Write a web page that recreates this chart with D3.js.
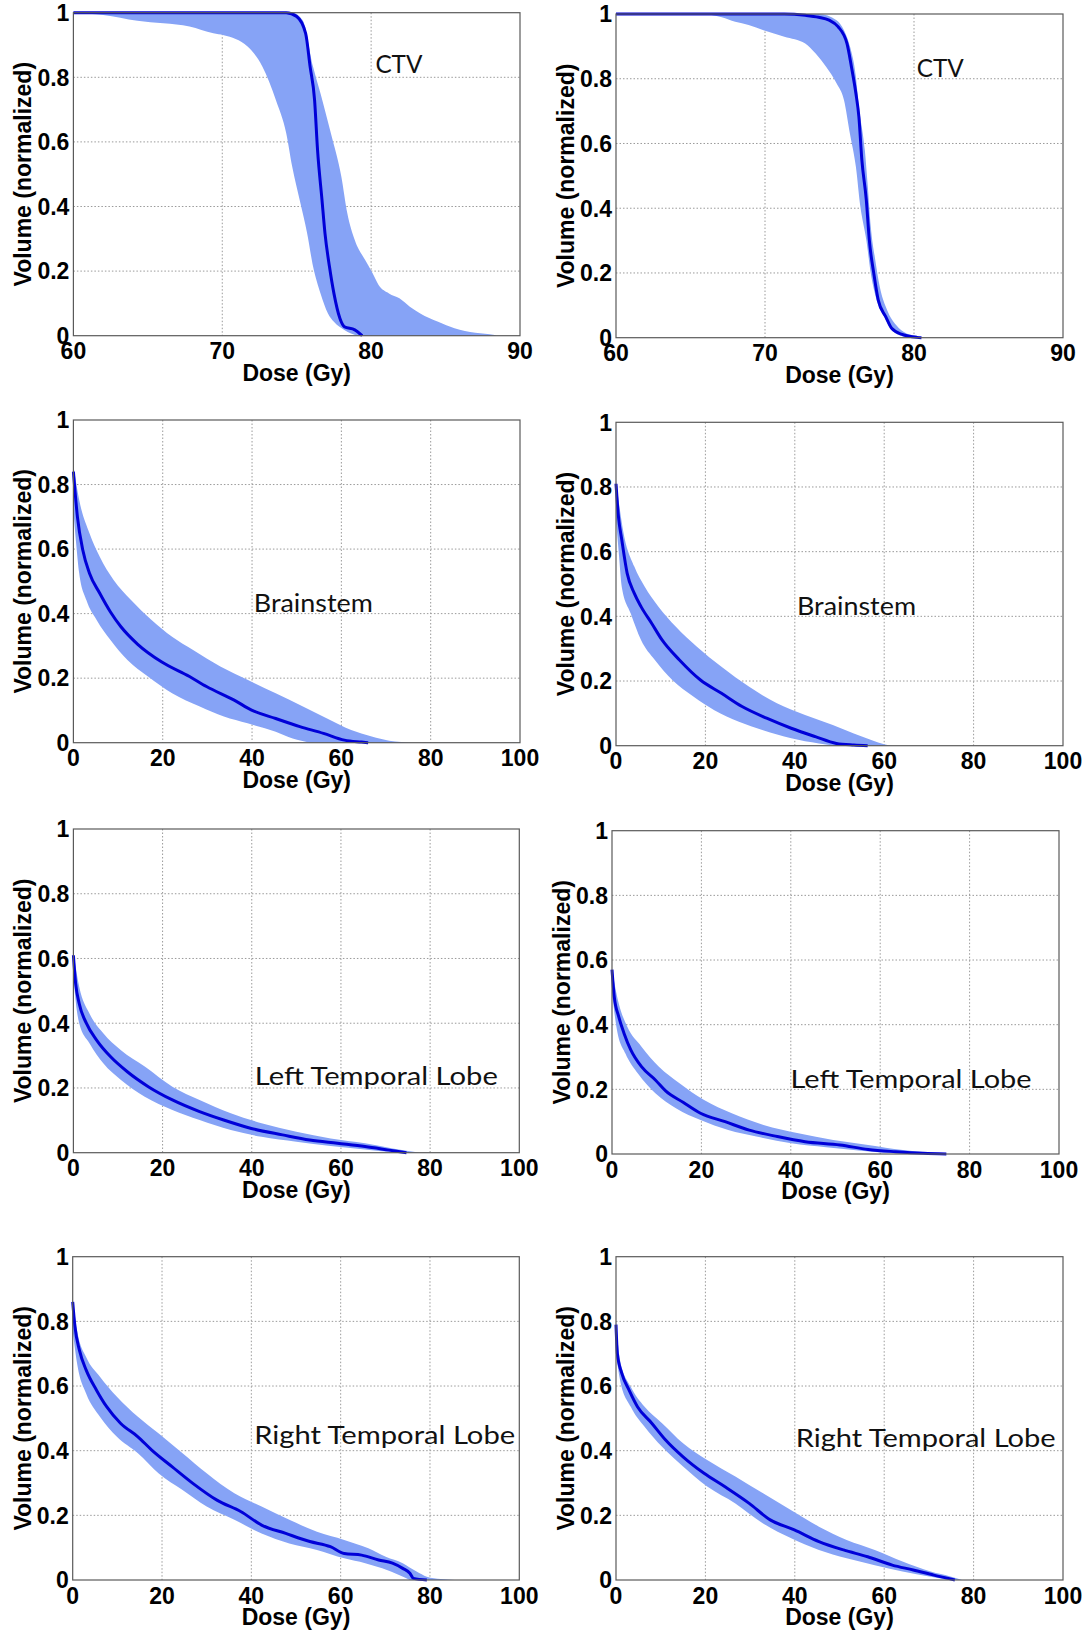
<!DOCTYPE html>
<html><head><meta charset="utf-8">
<script src="https://cdn.jsdelivr.net/npm/d3@7"></script>
<style>
html,body{margin:0;padding:0;background:#fff;}
svg{display:block;}
</style></head>
<body>
<svg id="chart" width="1087" height="1633"></svg>
<script>
// ---------- DATA (dose Gy, normalized volume) ----------
const structureNames = ["CTV","CTV","Brainstem","Brainstem","Left Temporal Lobe","Left Temporal Lobe","Right Temporal Lobe","Right Temporal Lobe"];
const xTicksCTV = [60,70,80,90];
const xTicksOAR = [0,20,40,60,80,100];
const yTicks = [0,0.2,0.4,0.6,0.8,1];
const yTickLabels = ["0","0.2","0.4","0.6","0.8","1"];
const xAxisTitle = "Dose (Gy)";
const yAxisTitle = "Volume (normalized)";

const ctvAMean = [[60,1],[74.3,1],[75.0,0.988],[75.6,0.936],[75.9,0.833],[76.2,0.73],[76.4,0.575],[76.7,0.42],[76.9,0.317],[77.2,0.214],[77.5,0.131],[77.9,0.054],[78.2,0.028],[78.9,0.018],[79.4,0]];
const ctvALow  = [[60,1],[62,0.993],[64.3,0.975],[67.8,0.957],[69.4,0.936],[70.1,0.93],[71.7,0.895],[72.7,0.833],[73.6,0.73],[74.3,0.626],[74.7,0.523],[75.2,0.42],[75.7,0.317],[76.1,0.214],[76.6,0.131],[77.1,0.069],[77.5,0.043],[78.2,0.018],[79.1,0]];
const ctvAHigh = [[60,1],[74.7,1],[75.4,0.977],[76.1,0.833],[76.6,0.75],[77.3,0.626],[78.0,0.492],[78.4,0.379],[78.9,0.296],[79.6,0.234],[80.1,0.193],[80.5,0.157],[81.2,0.131],[81.9,0.116],[82.6,0.09],[83.3,0.069],[84.5,0.043],[85.6,0.023],[87.0,0.009],[88.3,0.002],[88.4,0]];

const ctvBMean = [[60,1],[71.3,1],[72.7,0.996],[73.6,0.99],[74.3,0.981],[74.9,0.961],[75.5,0.909],[75.8,0.837],[76.1,0.755],[76.3,0.683],[76.5,0.549],[76.8,0.425],[77.0,0.302],[77.3,0.199],[77.6,0.116],[78.1,0.065],[78.5,0.029],[79.2,0.01],[80.2,0.001],[80.5,0]];
const ctvBLow  = [[60,1],[65.7,1],[67.1,0.99],[68.0,0.976],[68.9,0.966],[69.9,0.95],[71.3,0.93],[72.7,0.909],[73.4,0.878],[74.1,0.837],[74.8,0.786],[75.3,0.734],[75.7,0.63],[76.1,0.528],[76.4,0.405],[76.8,0.302],[77.1,0.199],[77.5,0.116],[78.0,0.065],[78.5,0.024],[79.0,0.008],[79.5,0]];
const ctvBHigh = [[60,1],[73.6,1],[74.8,0.981],[75.3,0.95],[75.7,0.9],[76.1,0.806],[76.3,0.714],[76.7,0.58],[76.9,0.467],[77.1,0.343],[77.4,0.24],[77.7,0.158],[78.2,0.085],[78.8,0.039],[79.5,0.013],[80.2,0.005],[80.6,0]];

const bsAMean = [[0,0.84],[0.9,0.70],[2.1,0.597],[3.6,0.525],[5.9,0.463],[8.3,0.405],[10.6,0.36],[14.4,0.305],[19.8,0.25],[26,0.205],[29.8,0.174],[36,0.132],[39.9,0.101],[45.3,0.075],[50.7,0.05],[56,0.029],[60.7,0.008],[64.5,0.002],[66,0]];
const bsALow  = [[0,0.72],[0.6,0.62],[1.3,0.525],[2.9,0.442],[5.2,0.38],[8.3,0.318],[12.1,0.256],[16.7,0.205],[22.1,0.153],[28.3,0.112],[33.7,0.081],[39,0.06],[45.3,0.034],[49.1,0.013],[53,0]];
const bsAHigh = [[0,0.86],[1.3,0.752],[3.6,0.649],[5.9,0.576],[9,0.504],[12.9,0.442],[17.5,0.38],[22.1,0.328],[26.8,0.287],[32.9,0.236],[39.1,0.194],[45.3,0.153],[51.4,0.112],[56.8,0.075],[62.2,0.039],[66.8,0.019],[70.7,0.006],[76.1,0]];

const bsBMean = [[0,0.81],[0.55,0.708],[1.3,0.636],[2.5,0.533],[4.1,0.471],[5.6,0.43],[8,0.378],[10.3,0.327],[14.2,0.265],[18.9,0.203],[23.6,0.162],[28.2,0.121],[33.7,0.085],[39.2,0.054],[44.6,0.028],[49.3,0.007],[53.2,0.002],[56.3,0]];
const bsBLow  = [[0,0.7],[0.6,0.6],[1.3,0.49],[3.3,0.409],[5.6,0.327],[8.7,0.265],[12.6,0.203],[17.3,0.152],[22,0.11],[27.5,0.074],[32.9,0.048],[39.2,0.023],[45.4,0.007],[49.3,0]];
const bsBHigh = [[0,0.82],[1.7,0.657],[4.1,0.554],[6.4,0.492],[9.5,0.43],[13.4,0.368],[18.1,0.306],[23.6,0.244],[29.8,0.182],[36,0.131],[42.3,0.095],[48.5,0.064],[53.2,0.038],[57.1,0.018],[60.2,0.004],[61.8,0]];

const ltlAMean = [[0,0.61],[0.5,0.523],[1.3,0.461],[2.9,0.4],[5.2,0.348],[8.3,0.297],[12.1,0.25],[16.8,0.204],[22.2,0.163],[28.3,0.127],[33.7,0.101],[39.9,0.075],[46.9,0.055],[53,0.039],[59.2,0.029],[65.4,0.019],[70.8,0.008],[74.7,0]];
const ltlALow  = [[0,0.55],[0.5,0.47],[1.3,0.4],[3.6,0.338],[6.7,0.276],[10.6,0.225],[16,0.173],[22.2,0.132],[28.3,0.101],[35.3,0.07],[42.2,0.049],[50,0.034],[57.7,0.021],[65.4,0.01],[71.6,0.002],[73.9,0]];
const ltlAHigh = [[0,0.62],[1.3,0.513],[3.6,0.43],[6.7,0.369],[10.6,0.317],[16,0.266],[22.2,0.204],[28.3,0.163],[35.3,0.122],[42.2,0.091],[50,0.065],[57.7,0.044],[65.4,0.029],[71.6,0.013],[77.8,0]];

const ltlBMean = [[0,0.57],[0.5,0.487],[1.5,0.425],[2.7,0.373],[4.2,0.322],[6.6,0.27],[9.7,0.229],[12,0.195],[15.9,0.16],[19.8,0.126],[25.3,0.1],[30.7,0.074],[37,0.054],[43.2,0.038],[51,0.028],[57.3,0.014],[63.5,0.007],[69.7,0.002],[74.8,0]];
const ltlBLow  = [[0,0.5],[1.1,0.384],[3,0.311],[5.8,0.249],[9.7,0.188],[14.4,0.141],[19.8,0.105],[26,0.074],[32.3,0.054],[40.1,0.033],[47.9,0.021],[55.7,0.01],[63.5,0.002],[66.6,0]];
const ltlBHigh = [[0,0.57],[1.5,0.466],[3.4,0.394],[6.6,0.332],[10.5,0.27],[15.1,0.219],[20.6,0.167],[26.8,0.126],[33.9,0.09],[41.7,0.064],[49.5,0.043],[57.3,0.028],[65.1,0.012],[71.3,0.004],[74.8,0]];

const rtlAMean = [[0,0.86],[0.5,0.784],[1.5,0.711],[3,0.65],[5.3,0.588],[7.6,0.536],[10.7,0.485],[14.6,0.443],[17.7,0.402],[22.3,0.35],[26.9,0.299],[32.3,0.247],[37.7,0.211],[42.3,0.17],[47.7,0.144],[53.1,0.119],[57.7,0.103],[60.8,0.082],[64.7,0.077],[68.5,0.062],[71.6,0.052],[73.9,0.036],[75.5,0.021],[76.3,0.005],[79.3,0]];
const rtlALow  = [[0,0.77],[1.1,0.66],[3,0.577],[6.1,0.505],[9.9,0.443],[14.6,0.392],[19.2,0.33],[24.6,0.278],[30,0.227],[36.2,0.186],[42.3,0.144],[48.5,0.113],[54.7,0.093],[60.8,0.067],[65.5,0.052],[69.3,0.036],[73.2,0.015],[75.5,0]];
const rtlAHigh = [[0,0.87],[1.1,0.763],[3,0.69],[6.1,0.629],[9.9,0.567],[14.6,0.505],[19.2,0.454],[24.6,0.392],[30,0.33],[36.2,0.268],[42.3,0.227],[48.5,0.186],[54.7,0.149],[60.8,0.124],[66.2,0.098],[70.1,0.072],[73.9,0.052],[77,0.026],[79.3,0.01],[82.4,0.003],[85.5,0]];

const rtlBMean = [[0,0.79],[0.3,0.701],[1.3,0.639],[2.9,0.588],[4.8,0.536],[8,0.485],[11.1,0.433],[15,0.381],[19.7,0.33],[24.3,0.289],[29.8,0.237],[34.5,0.186],[39.9,0.155],[45.4,0.119],[50.9,0.093],[56.3,0.072],[61.8,0.046],[66.5,0.031],[71.1,0.015],[75.8,0]];
const rtlBLow  = [[0,0.7],[0.9,0.619],[3.3,0.536],[6.4,0.474],[10.3,0.412],[15,0.351],[20.4,0.289],[26.7,0.237],[32.9,0.175],[39.2,0.129],[45.4,0.093],[51.6,0.067],[57.9,0.046],[64.1,0.026],[70.4,0.01],[74.3,0]];
const rtlBHigh = [[0,0.8],[0.9,0.68],[3.3,0.598],[6.4,0.536],[10.3,0.485],[15,0.423],[20.4,0.371],[26.7,0.32],[32.9,0.268],[39.2,0.216],[45.4,0.165],[51.6,0.124],[57.9,0.093],[64.1,0.057],[70.4,0.026],[75,0.01],[77.4,0]];

// ---------- LAYOUT ----------
const panels = [
  {mean:ctvAMean, low:ctvALow, high:ctvAHigh, ticks:xTicksCTV, box:[73.4,520,12.7,335.7], ann:[375.4,73.3,47]},
  {mean:ctvBMean, low:ctvBLow, high:ctvBHigh, ticks:xTicksCTV, box:[616,1063,14,337.7], ann:[916.8,77,47]},
  {mean:bsAMean, low:bsALow, high:bsAHigh, ticks:xTicksOAR, box:[73.4,520,420,742.7], ann:[253.8,611.7,119]},
  {mean:bsBMean, low:bsBLow, high:bsBHigh, ticks:xTicksOAR, box:[616,1063,422.3,745.7], ann:[797,615,119]},
  {mean:ltlAMean, low:ltlALow, high:ltlAHigh, ticks:xTicksOAR, box:[73.4,519.3,829,1152.7], ann:[254.8,1085,243]},
  {mean:ltlBMean, low:ltlBLow, high:ltlBHigh, ticks:xTicksOAR, box:[612,1059,830.7,1154], ann:[790.5,1088.3,241]},
  {mean:rtlAMean, low:rtlALow, high:rtlAHigh, ticks:xTicksOAR, box:[72.7,519.3,1256.7,1580], ann:[254.2,1444,261]},
  {mean:rtlBMean, low:rtlBLow, high:rtlBHigh, ticks:xTicksOAR, box:[616,1063,1256.7,1580], ann:[795.7,1446.7,260]}
];

const bandColor = "#86a3f6";
const lineColor = "#0000d8";
const tickFont = "'Liberation Sans', Arial, sans-serif";
const annFont = "Lato, 'Open Sans', sans-serif";

const svg = d3.select("#chart");
svg.append("rect").attr("width",1087).attr("height",1633).attr("fill","#fff");

panels.forEach((p,i) => {
  const [l,r,t,b] = p.box;
  const x = d3.scaleLinear().domain([p.ticks[0], p.ticks[p.ticks.length-1]]).range([l,r]);
  const y = d3.scaleLinear().domain([0,1]).range([b,t]);
  const g = svg.append("g");

  // grid
  g.append("g").selectAll("line").data(p.ticks.slice(1,-1)).join("line")
    .attr("x1",d=>x(d)).attr("x2",d=>x(d)).attr("y1",t).attr("y2",b)
    .attr("stroke","#9a9a9a").attr("stroke-width",1).attr("stroke-dasharray","1.5,2");
  g.append("g").selectAll("line").data(yTicks.slice(1,-1)).join("line")
    .attr("x1",l).attr("x2",r).attr("y1",d=>y(d)).attr("y2",d=>y(d))
    .attr("stroke","#9a9a9a").attr("stroke-width",1).attr("stroke-dasharray","1.5,2");

  // band: smooth upper edge forward, smooth lower edge backward
  const edge = d3.line().x(d=>x(d[0])).y(d=>y(d[1])).curve(d3.curveMonotoneX);
  const upperPath = edge(p.high);
  const lowerPath = edge(p.low.slice().reverse());
  const bandD = upperPath + "L" + lowerPath.slice(1) + "Z";
  g.append("path").attr("d", bandD).attr("fill",bandColor).attr("stroke","none");

  // mean line
  g.append("path").attr("d", edge(p.mean)).attr("fill","none")
    .attr("stroke",lineColor).attr("stroke-width",3).attr("stroke-linejoin","round");

  // frame
  g.append("rect").attr("x",l).attr("y",t).attr("width",r-l).attr("height",b-t)
    .attr("fill","none").attr("stroke","#5a5a5a").attr("stroke-width",1.2);

  // x tick labels
  g.append("g").selectAll("text").data(p.ticks).join("text")
    .attr("x",d=>x(d)).attr("y",b+23.5).attr("text-anchor","middle")
    .attr("font-family",tickFont).attr("font-weight","bold").attr("font-size",23)
    .attr("fill","#000").text(d=>d);
  // y tick labels
  g.append("g").selectAll("text").data(yTicks).join("text")
    .attr("x",l-4).attr("y",d=>y(d)).attr("dy","0.36em").attr("text-anchor","end")
    .attr("font-family",tickFont).attr("font-weight","bold").attr("font-size",23)
    .attr("fill","#000").text((d,k)=>yTickLabels[k]);

  // axis titles
  g.append("text").attr("x",(l+r)/2).attr("y",b+45).attr("text-anchor","middle")
    .attr("font-family",tickFont).attr("font-weight","bold").attr("font-size",23)
    .attr("fill","#000").text(xAxisTitle);
  g.append("text").attr("transform",`translate(${l-42},${(t+b)/2}) rotate(-90)`)
    .attr("text-anchor","middle")
    .attr("font-family",tickFont).attr("font-weight","bold").attr("font-size",23)
    .attr("fill","#000").text(yAxisTitle);

  // annotation
  g.append("text").attr("x",p.ann[0]).attr("y",p.ann[1])
    .attr("font-family",annFont).attr("font-size",25).attr("fill","#111")
    .attr("textLength",p.ann[2]).attr("lengthAdjust","spacingAndGlyphs")
    .text(structureNames[i]);
});
</script>
</body></html>
